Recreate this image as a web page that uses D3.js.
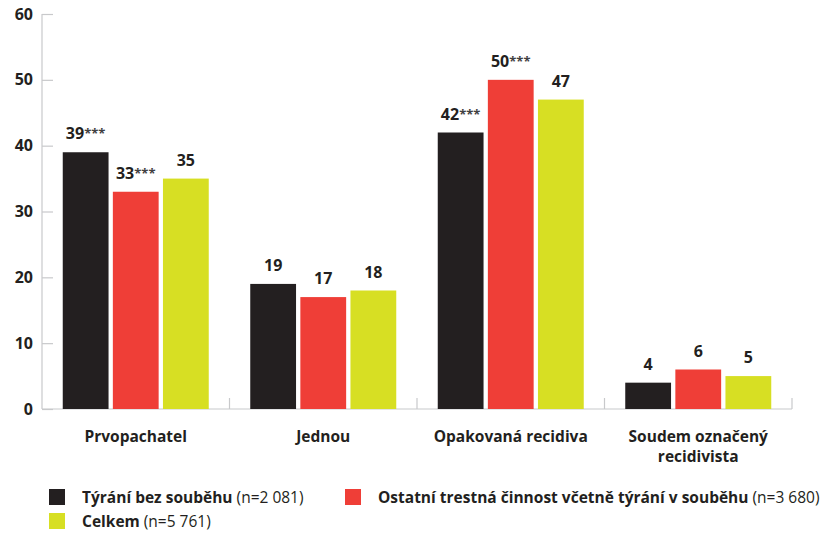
<!DOCTYPE html>
<meta charset="utf-8">
<style>
  body { margin: 0; background: #fff; }
  svg { font-family: "Open Sans", "Noto Sans", sans-serif; }
  .domain, .tick line { stroke: #c8c9cb; stroke-width: 1.2px; }
</style>
<body>
<svg width="827" height="540"></svg>
<script src="https://d3js.org/d3.v7.min.js"></script>
<script>
// data ------------------------------------------------------------------------
var categories = ["Prvopachatel", "Jednou", "Opakovaná recidiva", "Soudem označený recidivista"];
var catLines = [["Prvopachatel"], ["Jednou"], ["Opakovaná recidiva"], ["Soudem označený", "recidivista"]];
var seriesNames = ["Týrání bez souběhu", "Ostatní trestná činnost včetně týrání v souběhu", "Celkem"];
var seriesN = ["(n=2 081)", "(n=3 680)", "(n=5 761)"];
var tyrani = [39, 19, 42, 4];
var ostatni = [33, 17, 50, 6];
var celkem = [35, 18, 47, 5];
var stars = [["***", "", "***", ""], ["***", "", "***", ""], ["", "", "", ""]];
var yTicks = [0, 10, 20, 30, 40, 50, 60];
var colors = ["#231f20", "#ef3e37", "#d7df23"];
//------------------------------------------------------------------------------

var series = [tyrani, ostatni, celkem];
var svg = d3.select("svg");
var mLeft = 42, mRight = 792, mTop = 14, mBottom = 409;
var groupW = 146;

var x0 = d3.scaleBand().domain(categories).range([mLeft, mRight]).paddingInner(0).paddingOuter(0);
var x1 = d3.scaleBand().domain([0, 1, 2]).range([0, groupW]).paddingInner(0.086).paddingOuter(0);
var y = d3.scaleLinear().domain([0, 60]).range([mBottom, mTop]);

// y axis (ticks pointing inward)
svg.append("g")
  .attr("transform", "translate(" + mLeft + ",0)")
  .call(d3.axisRight(y).tickValues(yTicks).tickSize(11).tickFormat(""))
  .call(g => g.select(".domain").attr("d", "M0," + mTop + "V" + mBottom));

svg.append("g").selectAll("text")
  .data(yTicks).enter().append("text")
  .attr("x", 33).attr("y", d => y(d) + 5.5)
  .attr("text-anchor", "end")
  .attr("font-size", 16).attr("font-weight", 700).attr("fill", "#231f20")
  .text(d => d);

// x axis baseline with category separators
svg.append("line")
  .attr("x1", mLeft).attr("x2", mRight).attr("y1", mBottom).attr("y2", mBottom)
  .attr("stroke", "#c8c9cb").attr("stroke-width", 1.2);
svg.append("g").selectAll("line")
  .data(categories).enter().append("line")
  .attr("x1", d => x0(d) + x0.bandwidth())
  .attr("x2", d => x0(d) + x0.bandwidth())
  .attr("y1", mBottom).attr("y2", mBottom - 11)
  .attr("stroke", "#c8c9cb").attr("stroke-width", 1.2);

// bars
var groups = svg.append("g").selectAll("g")
  .data(categories).enter().append("g")
  .attr("transform", d => "translate(" + (x0(d) + (x0.bandwidth() - groupW) / 2) + ",0)");

groups.each(function(cat, ci) {
  var g = d3.select(this);
  series.forEach(function(s, si) {
    g.append("rect")
      .attr("x", x1(si)).attr("width", x1.bandwidth())
      .attr("y", y(s[ci])).attr("height", mBottom - y(s[ci]))
      .attr("fill", colors[si]);
    var t = g.append("text")
      .attr("x", x1(si) + x1.bandwidth() / 2)
      .attr("y", y(s[ci]) - 13)
      .attr("text-anchor", "middle")
      .attr("font-size", 16).attr("font-weight", 700).attr("fill", "#231f20");
    t.append("tspan").text(s[ci]);
    if (stars[si][ci]) {
      t.append("tspan").attr("font-size", 13).attr("fill", "#414042").attr("dy", -1).text(stars[si][ci]);
    }
  });
});

// category labels
svg.append("g").selectAll("text")
  .data(catLines).enter().append("text")
  .attr("x", (d, i) => x0(categories[i]) + x0.bandwidth() / 2)
  .attr("y", 442)
  .attr("text-anchor", "middle")
  .attr("font-size", 15.5).attr("font-weight", 700).attr("fill", "#231f20")
  .selectAll("tspan").data(d => d).enter().append("tspan")
  .attr("x", function() { return this.parentNode.getAttribute("x"); })
  .attr("dy", (d, i) => i ? 20 : 0)
  .text(d => d);

// legend
var legendPos = [[49, 489], [345, 489], [49, 513]];
var legend = svg.append("g").selectAll("g")
  .data(seriesNames).enter().append("g")
  .attr("transform", (d, i) => "translate(" + legendPos[i][0] + "," + legendPos[i][1] + ")");
legend.append("rect").attr("width", 16).attr("height", 16).attr("fill", (d, i) => colors[i]);
var lt = legend.append("text")
  .attr("x", 33).attr("y", 13.5)
  .attr("font-size", 15.5).attr("fill", "#231f20");
lt.append("tspan").attr("font-weight", 700).text(d => d);
lt.append("tspan").text((d, i) => " " + seriesN[i]);
</script>
</body>
